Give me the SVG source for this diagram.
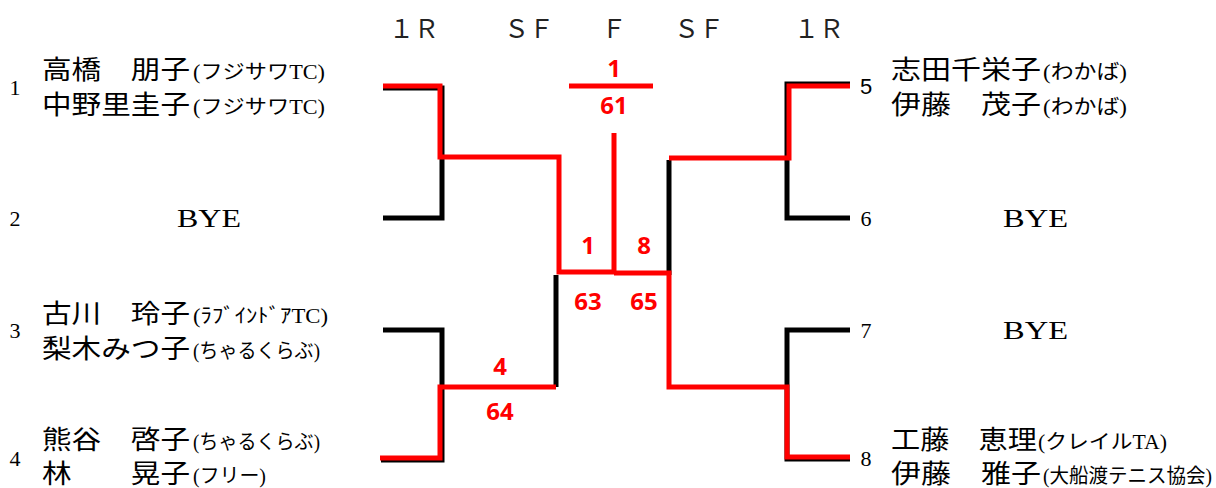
<svg xmlns="http://www.w3.org/2000/svg" width="1216" height="488" viewBox="0 0 1216 488">
<style>
.hd{font-family:"Noto Sans CJK JP","Noto Sans",sans-serif;font-size:25px;fill:#222;text-anchor:middle}
.nm{font-family:"Liberation Serif","Noto Sans CJK JP",serif;font-size:26px;fill:#000}
.cl{font-family:"Liberation Serif","Noto Sans CJK JP",serif;font-size:20px;fill:#000}
.no{font-family:"Liberation Serif","Noto Sans CJK JP",serif;font-size:22px;fill:#000;text-anchor:middle}
.bye{font-family:"Liberation Serif",serif;font-size:26px;fill:#000}
.sc{font-family:"Noto Sans","Liberation Sans",sans-serif;font-weight:bold;font-size:24px;fill:#ff0000;text-anchor:middle}
.bk{fill:none;stroke:#000;stroke-width:5}
.rd{fill:none;stroke:#ff0000;stroke-width:5}
</style>
<rect width="1216" height="488" fill="#fff"/>
<g id="headers">
<text class="hd" x="414" y="38">１Ｒ</text>
<text class="hd" x="529" y="38">ＳＦ</text>
<text class="hd" x="614" y="38">Ｆ</text>
<text class="hd" x="699" y="38">ＳＦ</text>
<text class="hd" x="819" y="38">１Ｒ</text>
</g>
<g id="connectors">
<path class="bk" d="M383,88 H442 V218 H383"/>
<path class="bk" d="M383,330 H442 V460 H381"/>
<path class="bk" d="M556,275 V387"/>
<path class="bk" d="M669,160 V275"/>
<path class="bk" d="M850,84 H787 V218 H850"/>
<path class="bk" d="M850,330 H787 V459 H850"/>
<path class="rd" d="M383,86 H440 V157 H559 V272 H614"/>
<path class="rd" d="M614,133 V272"/>
<path class="rd" d="M569,86 H653"/>
<path class="rd" d="M380,458 H440 V387 H556"/>
<path class="rd" d="M850,86 H789 V158 H669"/>
<path class="rd" d="M614,273 H669 V387 H787 V457 H850"/>
</g>
<g id="scores">
<text class="sc" x="614" y="77">1</text>
<text class="sc" x="614" y="114">61</text>
<text class="sc" x="588" y="254">1</text>
<text class="sc" x="644" y="254">8</text>
<text class="sc" x="588" y="310">63</text>
<text class="sc" x="644" y="310">65</text>
<text class="sc" x="500" y="375">4</text>
<text class="sc" x="500" y="420">64</text>
</g>
<g id="p1">
<text class="no" x="15" y="95">1</text>
<text class="nm" x="42" y="79" textLength="148" lengthAdjust="spacingAndGlyphs">高橋　朋子</text>
<text class="cl" x="193" y="79" textLength="132" lengthAdjust="spacingAndGlyphs">(フジサワTC)</text>
<text class="nm" x="42" y="114" textLength="148" lengthAdjust="spacingAndGlyphs">中野里圭子</text>
<text class="cl" x="193" y="114" textLength="132" lengthAdjust="spacingAndGlyphs">(フジサワTC)</text>
</g>
<g id="p2">
<text class="no" x="15" y="226">2</text>
<text class="bye" x="177" y="227" textLength="64" lengthAdjust="spacingAndGlyphs">BYE</text>
</g>
<g id="p3">
<text class="no" x="15" y="338">3</text>
<text class="nm" x="42" y="323" textLength="148" lengthAdjust="spacingAndGlyphs">古川　玲子</text>
<text class="cl" x="193" y="323" textLength="135" lengthAdjust="spacingAndGlyphs">(ﾗﾌﾞｲﾝﾄﾞｱTC)</text>
<text class="nm" x="42" y="358" textLength="148" lengthAdjust="spacingAndGlyphs">梨木みつ子</text>
<text class="cl" x="193" y="358" textLength="127" lengthAdjust="spacingAndGlyphs">(ちゃるくらぶ)</text>
</g>
<g id="p4">
<text class="no" x="15" y="466">4</text>
<text class="nm" x="42" y="449" textLength="148" lengthAdjust="spacingAndGlyphs">熊谷　啓子</text>
<text class="cl" x="193" y="449" textLength="127" lengthAdjust="spacingAndGlyphs">(ちゃるくらぶ)</text>
<text class="nm" x="42" y="483" textLength="148" lengthAdjust="spacingAndGlyphs">林　　晃子</text>
<text class="cl" x="193" y="483" textLength="73" lengthAdjust="spacingAndGlyphs">(フリー)</text>
</g>
<g id="p5">
<text class="no" x="866" y="94" style="font-family:'Liberation Sans',sans-serif">5</text>
<text class="nm" x="891" y="79" textLength="150" lengthAdjust="spacingAndGlyphs">志田千栄子</text>
<text class="cl" x="1043" y="79" textLength="84" lengthAdjust="spacingAndGlyphs">(わかば)</text>
<text class="nm" x="891" y="114" textLength="150" lengthAdjust="spacingAndGlyphs">伊藤　茂子</text>
<text class="cl" x="1043" y="114" textLength="84" lengthAdjust="spacingAndGlyphs">(わかば)</text>
</g>
<g id="p6">
<text class="no" x="866" y="226">6</text>
<text class="bye" x="1003" y="227" textLength="65" lengthAdjust="spacingAndGlyphs">BYE</text>
</g>
<g id="p7">
<text class="no" x="866" y="338">7</text>
<text class="bye" x="1003" y="339" textLength="65" lengthAdjust="spacingAndGlyphs">BYE</text>
</g>
<g id="p8">
<text class="no" x="866" y="466">8</text>
<text class="nm" x="891" y="449" textLength="146" lengthAdjust="spacingAndGlyphs">工藤　恵理</text>
<text class="cl" x="1038" y="449" textLength="129" lengthAdjust="spacingAndGlyphs">(クレイルTA)</text>
<text class="nm" x="891" y="483" textLength="150" lengthAdjust="spacingAndGlyphs">伊藤　雅子</text>
<text class="cl" x="1043" y="483" textLength="169" lengthAdjust="spacingAndGlyphs">(大船渡テニス協会)</text>
</g>
</svg>
